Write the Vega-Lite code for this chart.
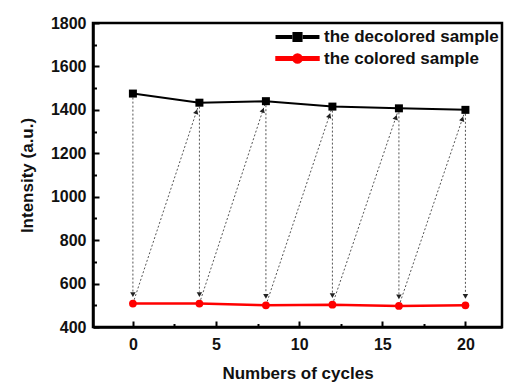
{
  "$schema": "https://vega.github.io/schema/vega-lite/v6.json",
  "width": 409,
  "height": 304,
  "autosize": "none",
  "padding": {"left": 93, "top": 23, "right": 5, "bottom": 58},
  "background": "white",
  "config": {
    "view": {"stroke": "black", "strokeWidth": 2.5},
    "font": "Liberation Sans",
    "axis": {
      "labelFont": "Liberation Sans", "labelFontSize": 16, "labelFontWeight": "bold", "labelColor": "#111",
      "titleFont": "Liberation Sans", "titleFontSize": 17, "titleFontWeight": "bold", "titleColor": "#111",
      "domainColor": "black", "domainWidth": 2.5, "tickColor": "black", "tickWidth": 2, "grid": false
    },
    "legend": {"labelFont": "Liberation Sans", "labelFontSize": 17, "labelFontWeight": "bold", "labelColor": "#111", "labelLimit": 400}
  },
  "datasets": {
    "series": [
      {"cycle": 0, "intensity": 1475, "sample": "the decolored sample"},
      {"cycle": 4, "intensity": 1433, "sample": "the decolored sample"},
      {"cycle": 8, "intensity": 1440, "sample": "the decolored sample"},
      {"cycle": 12, "intensity": 1415, "sample": "the decolored sample"},
      {"cycle": 16, "intensity": 1407, "sample": "the decolored sample"},
      {"cycle": 20, "intensity": 1400, "sample": "the decolored sample"},
      {"cycle": 0, "intensity": 508, "sample": "the colored sample"},
      {"cycle": 4, "intensity": 508, "sample": "the colored sample"},
      {"cycle": 8, "intensity": 500, "sample": "the colored sample"},
      {"cycle": 12, "intensity": 503, "sample": "the colored sample"},
      {"cycle": 16, "intensity": 497, "sample": "the colored sample"},
      {"cycle": 20, "intensity": 500, "sample": "the colored sample"}
    ],
    "arrows": [
      {"kind": "down", "cycle": 0, "cycle2": 0, "from": 1475, "to": 508},
      {"kind": "down", "cycle": 4, "cycle2": 4, "from": 1433, "to": 508},
      {"kind": "down", "cycle": 8, "cycle2": 8, "from": 1440, "to": 500},
      {"kind": "down", "cycle": 12, "cycle2": 12, "from": 1415, "to": 503},
      {"kind": "down", "cycle": 16, "cycle2": 16, "from": 1407, "to": 497},
      {"kind": "down", "cycle": 20, "cycle2": 20, "from": 1400, "to": 500},
      {"kind": "up", "cycle": 0, "cycle2": 4, "from": 508, "to": 1433},
      {"kind": "up", "cycle": 4, "cycle2": 8, "from": 508, "to": 1440},
      {"kind": "up", "cycle": 8, "cycle2": 12, "from": 500, "to": 1415},
      {"kind": "up", "cycle": 12, "cycle2": 16, "from": 503, "to": 1407},
      {"kind": "up", "cycle": 16, "cycle2": 20, "from": 497, "to": 1400}
    ]
  },
  "layer": [
    {
      "data": {"name": "arrows"},
      "transform": [{"filter": "datum.kind === 'down'"}],
      "mark": {"type": "rule", "strokeDash": [2, 2], "color": "#555", "strokeWidth": 1, "y2Offset": -12},
      "encoding": {
        "x": {"field": "cycle", "type": "quantitative", "scale": {"domain": [-2.4, 22.2], "nice": false, "zero": false}, "axis": null},
        "y": {"field": "from", "type": "quantitative", "scale": {"domain": [400, 1800], "nice": false, "zero": false}, "axis": null},
        "y2": {"field": "to"}
      }
    },
    {
      "data": {"name": "arrows"},
      "transform": [{"filter": "datum.kind === 'up'"}],
      "mark": {"type": "rule", "strokeDash": [2, 2], "color": "#555", "strokeWidth": 1},
      "encoding": {
        "x": {"field": "cycle", "type": "quantitative", "scale": {"domain": [-2.4, 22.2], "nice": false, "zero": false}, "axis": null},
        "x2": {"field": "cycle2"},
        "y": {"field": "from", "type": "quantitative", "scale": {"domain": [400, 1800], "nice": false, "zero": false}, "axis": null},
        "y2": {"field": "to"}
      }
    },
    {
      "data": {"name": "series"},
      "mark": {"type": "line"},
      "encoding": {
        "x": {"field": "cycle", "type": "quantitative", "scale": {"domain": [-2.4, 22.2], "nice": false, "zero": false},
          "axis": {"orient": "bottom", "values": [0, 5, 10, 15, 20], "tickSize": -6, "labelPadding": 15, "title": "Numbers of cycles", "titlePadding": 13}},
        "y": {"field": "intensity", "type": "quantitative", "scale": {"domain": [400, 1800], "nice": false, "zero": false},
          "axis": {"orient": "left", "values": [400, 600, 800, 1000, 1200, 1400, 1600, 1800], "format": "d", "tickSize": -6, "labelPadding": 13, "title": "Intensity (a.u.)", "titlePadding": 14}},
        "color": {"field": "sample", "type": "nominal", "scale": {"domain": ["the decolored sample", "the colored sample"], "range": ["#000000", "#ff0000"]},
          "legend": {"title": null, "orient": "none", "legendX": 194, "legendY": 4, "padding": 0, "symbolSize": 324, "labelOffset": 16, "rowPadding": 2,
            "encode": {"symbols": {"update": {
              "shape": {"signal": "datum.value === 'the decolored sample' ? 'M-2.33,-0.12H-0.7V0.12H-2.33Z M0.7,-0.12H2.33V0.12H0.7Z M-0.45,-0.45H0.45V0.45H-0.45Z' : 'M-2.33,-0.14H-0.7V0.14H-2.33Z M0.7,-0.14H2.33V0.14H0.7Z M-0.45,-0.14H0.45V0.14H-0.45Z M-0.45,0A0.45,0.45 0 1,1 0.45,0A0.45,0.45 0 1,1 -0.45,0Z'"},
              "fill": {"signal": "datum.value === 'the decolored sample' ? '#000000' : '#ff0000'"},
              "stroke": {"value": "transparent"},
              "strokeWidth": {"value": 0},
              "opacity": {"value": 1}
            }}}}},
        "strokeWidth": {"field": "sample", "type": "nominal", "scale": {"domain": ["the decolored sample", "the colored sample"], "range": [2, 2.5]}, "legend": null}
      }
    },
    {
      "data": {"name": "arrows"},
      "transform": [{"filter": "datum.kind === 'down'"}],
      "mark": {"type": "point", "shape": "triangle-down", "filled": true, "color": "#222", "opacity": 1, "size": 30, "yOffset": -9},
      "encoding": {
        "x": {"field": "cycle", "type": "quantitative", "scale": {"domain": [-2.4, 22.2], "nice": false, "zero": false},
          "axis": {"orient": "bottom", "values": [2.5, 7.5, 12.5, 17.5], "tickSize": -3.5, "labels": false, "domain": false, "title": null}},
        "y": {"field": "to", "type": "quantitative", "scale": {"domain": [400, 1800], "nice": false, "zero": false},
          "axis": {"orient": "left", "values": [500, 700, 900, 1100, 1300, 1500, 1700], "tickSize": -3.5, "labels": false, "domain": false, "title": null}}
      }
    },
    {
      "data": {"name": "arrows"},
      "transform": [{"filter": "datum.kind === 'up'"}],
      "mark": {"type": "point", "shape": "triangle-up", "angle": 18, "filled": true, "color": "#222", "opacity": 1, "size": 30, "xOffset": -3, "yOffset": 9},
      "encoding": {
        "x": {"field": "cycle2", "type": "quantitative", "scale": {"domain": [-2.4, 22.2], "nice": false, "zero": false}, "axis": null},
        "y": {"field": "to", "type": "quantitative", "scale": {"domain": [400, 1800], "nice": false, "zero": false}, "axis": null}
      }
    },
    {
      "data": {"name": "series"},
      "transform": [{"filter": "datum.sample === 'the decolored sample'"}],
      "mark": {"type": "point", "filled": true, "opacity": 1, "shape": "square", "size": 64, "color": "#000000"},
      "encoding": {
        "x": {"field": "cycle", "type": "quantitative", "scale": {"domain": [-2.4, 22.2], "nice": false, "zero": false}, "axis": null},
        "y": {"field": "intensity", "type": "quantitative", "scale": {"domain": [400, 1800], "nice": false, "zero": false}, "axis": null}
      }
    },
    {
      "data": {"name": "series"},
      "transform": [{"filter": "datum.sample === 'the colored sample'"}],
      "mark": {"type": "point", "filled": true, "opacity": 1, "shape": "circle", "size": 60, "color": "#ff0000"},
      "encoding": {
        "x": {"field": "cycle", "type": "quantitative", "scale": {"domain": [-2.4, 22.2], "nice": false, "zero": false}, "axis": null},
        "y": {"field": "intensity", "type": "quantitative", "scale": {"domain": [400, 1800], "nice": false, "zero": false}, "axis": null}
      }
    }
  ],
  "resolve": {"axis": {"x": "independent", "y": "independent"}}
}
